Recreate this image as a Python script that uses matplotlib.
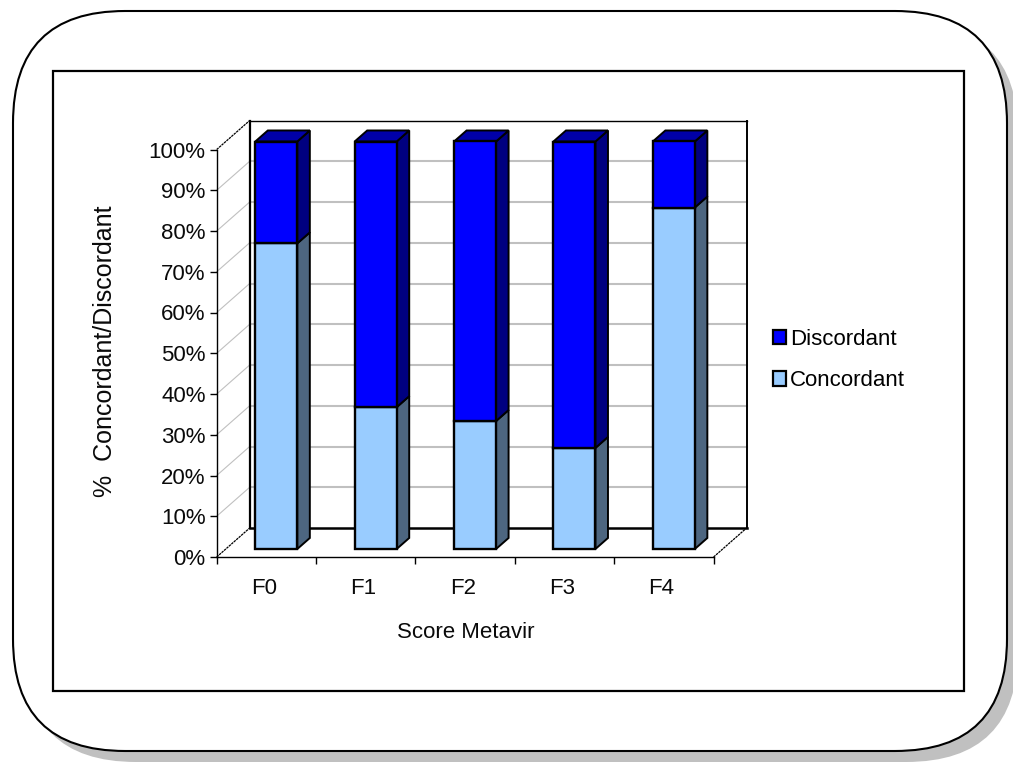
import matplotlib
matplotlib.use('Agg')
import matplotlib.pyplot as plt
from matplotlib.patches import FancyBboxPatch, Patch, Polygon, Rectangle

categories = ['F0', 'F1', 'F2', 'F3', 'F4']
concordant = [75.0, 34.8, 31.4, 24.8, 83.8]
discordant = [25.0, 65.2, 68.6, 75.2, 16.2]
y_ticks = [0, 10, 20, 30, 40, 50, 60, 70, 80, 90, 100]

W, H = 1013, 762
plt.rcParams['font.family'] = ['Liberation Sans', 'DejaVu Sans']
TXT = '#0a0a0a'

fig = plt.figure(figsize=(W / 100, H / 100), dpi=100)

# Cadre arrondi + ombre, en pixels
bg = fig.add_axes([0, 0, 1, 1])
bg.set_xlim(0, W)
bg.set_ylim(H, 0)
bg.axis('off')
box = 'round,pad=0,rounding_size=112'
bg.add_patch(FancyBboxPatch((24, 22), 994, 740, boxstyle=box, fc='#c0c0c0', ec='none'))
bg.add_patch(FancyBboxPatch((13, 11), 994, 740, boxstyle=box, fc='white', ec='black', lw=1.5))
bg.add_patch(Rectangle((53, 71), 911, 620, fc='white', ec='black', lw=1.6))

# Axes = plan avant du graphique 3D
left, right, top, bottom = 216.7, 713.6, 149.5, 557.0
ax = fig.add_axes([left / W, 1 - bottom / H, (right - left) / W, (bottom - top) / H])
ax.set_xlim(0, 5)
ax.set_ylim(0, 100)
ax.patch.set_alpha(0)

# Profondeur totale, en unites de donnees
depth_x = 33 / ((right - left) / 5)
depth_y = 29 / ((bottom - top) / 100)


def proj(x, y, d):
    return x + d * depth_x, y + d * depth_y


def line3d(p0, p1, **kw):
    ax.plot([p0[0], p1[0]], [p0[1], p1[1]], clip_on=False, **kw)


# Parois
for v in y_ticks[1:-1]:
    line3d(proj(0, v, 1), proj(5, v, 1), color='#c0c0c0', lw=1.5, zorder=1)
    line3d(proj(0, v, 0), proj(0, v, 1), color='#c0c0c0', lw=0.8, zorder=1)
for v in (0, 100):
    line3d(proj(0, v, 0), proj(0, v, 1), color='black', lw=0.9, ls=(0, (2, 0.6)), zorder=2)
line3d(proj(5, 0, 0), proj(5, 0, 1), color='black', lw=0.9, ls=(0, (2, 0.6)), zorder=2)
line3d(proj(0, 0, 1), proj(0, 100, 1), color='black', lw=1.6, zorder=2)
line3d(proj(0, 100, 1), proj(5, 100, 1), color='black', lw=1.0, zorder=2)
line3d(proj(5, 0, 1), proj(5, 100, 1), color='black', lw=1.4, zorder=2)
line3d(proj(0, 0, 1), proj(5, 0, 1), color='black', lw=1.8, zorder=2)

# Barres empilees
d0, d1 = 0.30, 0.68
bar_w = 42 / ((right - left) / 5)
centers = [i + 0.5 for i in range(len(categories))]
front_x = [proj(c, 0, d0)[0] for c in centers]
off_y = 8 / ((bottom - top) / 100)
edge = dict(edgecolor='black', linewidth=1.7, zorder=4, clip_on=False)
ax.bar(front_x, concordant, bar_w, bottom=off_y, color='#99ccff', **edge)
ax.bar(front_x, discordant, bar_w, bottom=[off_y + v for v in concordant], color='#0000ff', **edge)


def side(x, y0, y1, color):
    pts = [(x + d0 * depth_x, off_y + y0), (x + d1 * depth_x, off_y + y0 + (d1 - d0) * depth_y),
           (x + d1 * depth_x, off_y + y1 + (d1 - d0) * depth_y), (x + d0 * depth_x, off_y + y1)]
    ax.add_patch(Polygon(pts, fc=color, ec='black', lw=1.4, zorder=3, clip_on=False))


half = bar_w / 2
rise = (d1 - d0) * depth_y
for c, a, b in zip(centers, concordant, discordant):
    side(c + half, 0, a, '#4d6680')
    side(c + half, a, a + b, '#000080')
    y_top = off_y + a + b
    top_pts = [(c - half + d0 * depth_x, y_top), (c + half + d0 * depth_x, y_top),
               (c + half + d1 * depth_x, y_top + rise), (c - half + d1 * depth_x, y_top + rise)]
    ax.add_patch(Polygon(top_pts, fc='#0000a8', ec='black', lw=1.4, zorder=3, clip_on=False))

# Axes et textes
for s in ('top', 'right'):
    ax.spines[s].set_visible(False)
for s in ('left', 'bottom'):
    ax.spines[s].set_linewidth(1.0)
ax.set_yticks(y_ticks)
ax.set_yticklabels([f'{v}%' for v in y_ticks], fontsize=16, color=TXT)
ax.set_xticks(range(6))
ax.set_xticklabels([])
ax.set_xticks([c - 0.025 for c in centers], minor=True)
ax.set_xticklabels(categories, minor=True, fontsize=16, color=TXT)
ax.tick_params(axis='y', length=5, width=1, pad=3)
ax.tick_params(axis='x', which='major', length=5, width=1)
ax.tick_params(axis='x', which='minor', length=0, pad=15)

fig.text(466 / W, 1 - 632 / H, 'Score Metavir', fontsize=16, ha='center', va='center', color=TXT)
fig.text(105 / W, 1 - 351 / H, '%  Concordant/Discordant', fontsize=18, rotation=90,
         ha='center', va='center', color=TXT)

handles = [Patch(fc='#0000ff', ec='black', lw=1.6, label='Discordant'),
           Patch(fc='#99ccff', ec='black', lw=1.6, label='Concordant')]
ax.legend(handles=handles, loc='center left',
          bbox_to_anchor=((773 - left) / (right - left), (bottom - 360) / (bottom - top)),
          frameon=False, fontsize=16, handlelength=0.58, handleheight=0.62, handletextpad=0.2,
          labelspacing=0.92, borderpad=0, borderaxespad=0)

fig.savefig('out.png', dpi=100)
